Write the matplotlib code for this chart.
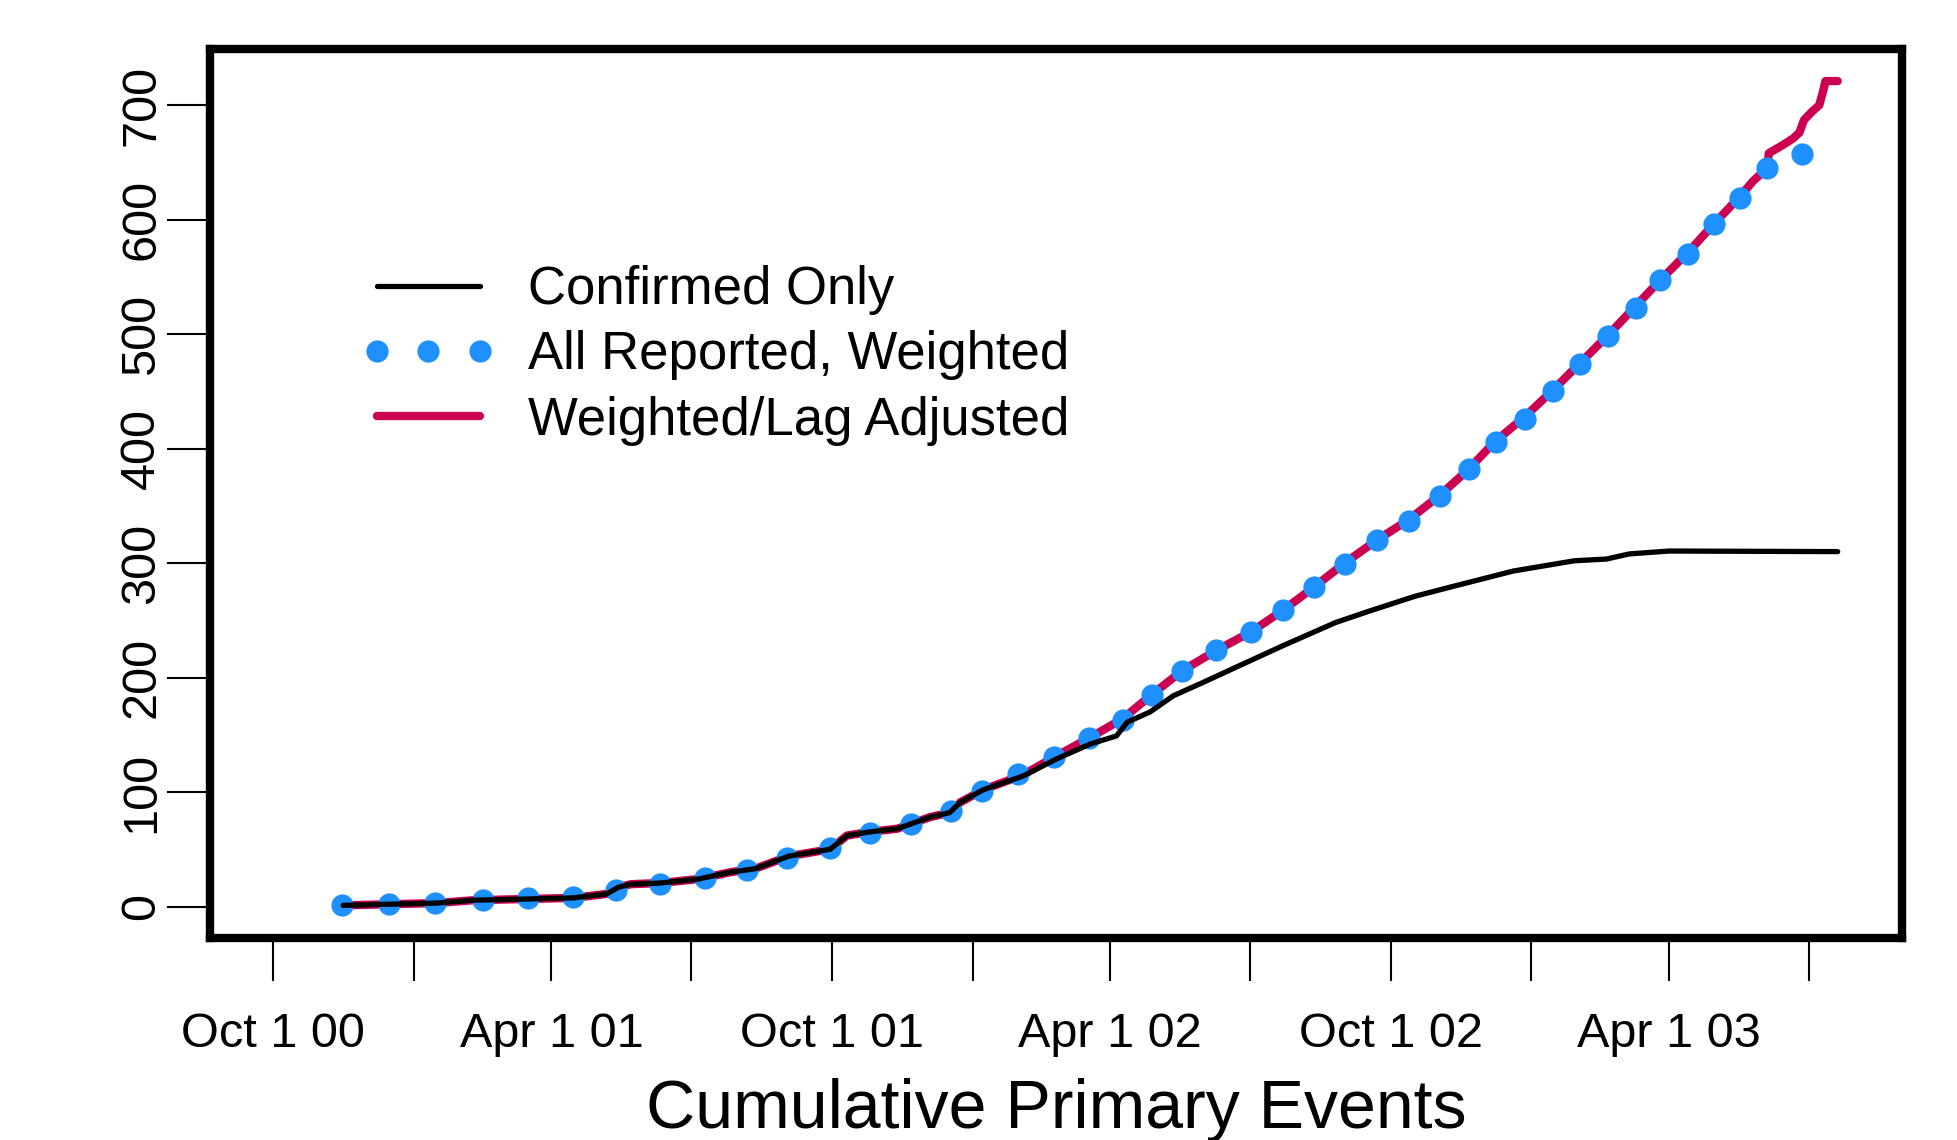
import matplotlib.pyplot as plt
import numpy as np

plt.rcParams['font.family'] = ['Liberation Sans', 'DejaVu Sans']

# confirmed events only (black)
conf_dates = ['2000-11-16', '2000-12-16', '2001-01-16', '2001-02-09', '2001-03-14',
              '2001-04-15', '2001-05-07', '2001-05-15', '2001-05-23', '2001-06-11',
              '2001-07-06', '2001-07-27', '2001-08-12', '2001-09-03', '2001-09-30',
              '2001-10-11', '2001-10-25', '2001-11-13', '2001-12-04', '2001-12-17',
              '2001-12-24', '2002-01-08', '2002-02-03', '2002-02-25', '2002-03-19',
              '2002-04-05', '2002-04-12', '2002-04-27', '2002-05-12', '2002-06-01',
              '2002-06-22', '2002-07-23', '2002-08-26', '2002-09-17', '2002-10-17',
              '2002-11-09', '2002-12-20', '2003-01-29', '2003-02-19', '2003-03-06',
              '2003-04-01', '2003-07-20']
conf_counts = [1, 2, 3, 5.5, 6.5, 7.5, 11, 17, 19.5, 20.5,
               24, 30, 33, 44, 50, 62, 65, 68, 78, 82,
               91, 102, 114, 129, 142, 149, 161, 170, 184, 196,
               209, 228, 248, 258, 271, 279, 293, 302, 303.5, 308,
               310.5, 310]

# all reported, weighted (blue dots)
wtd_dates = ['2000-11-15', '2000-12-16', '2001-01-15', '2001-02-15', '2001-03-17',
             '2001-04-15', '2001-05-13', '2001-06-11', '2001-07-10', '2001-08-07',
             '2001-09-02', '2001-09-30', '2001-10-26', '2001-11-22', '2001-12-18',
             '2002-01-07', '2002-01-31', '2002-02-23', '2002-03-18', '2002-04-09',
             '2002-04-28', '2002-05-18', '2002-06-09', '2002-07-02', '2002-07-23',
             '2002-08-12', '2002-09-01', '2002-09-22', '2002-10-13', '2002-11-02',
             '2002-11-21', '2002-12-09', '2002-12-28', '2003-01-15', '2003-02-02',
             '2003-02-20', '2003-03-10', '2003-03-26', '2003-04-13', '2003-04-30',
             '2003-05-17', '2003-06-04', '2003-06-27']
wtd_counts = [1, 2, 3, 5.5, 7.6, 8.7, 14, 19.6, 25, 31.6,
              42.5, 51, 64, 72, 83, 101, 115.6, 131, 147, 162.5,
              185, 206, 224, 240, 259, 279, 299, 320, 337, 359,
              382, 406, 426, 450, 474, 498, 523, 547, 570, 596,
              619, 645, 657]

# weighted / lag adjusted (red)
adj_dates = ['2000-11-16', '2000-12-16', '2001-01-16', '2001-02-09', '2001-03-14',
             '2001-04-15', '2001-05-07', '2001-05-15', '2001-05-23', '2001-06-11',
             '2001-07-06', '2001-07-27', '2001-08-12', '2001-09-03', '2001-09-30',
             '2001-10-11', '2001-10-25', '2001-11-13', '2001-12-04', '2001-12-17',
             '2001-12-24', '2002-01-08', '2002-02-03', '2002-02-24', '2002-03-18',
             '2002-04-09', '2002-04-28', '2002-05-18', '2002-06-09', '2002-07-02',
             '2002-07-23', '2002-08-12', '2002-09-01', '2002-09-22', '2002-10-13',
             '2002-11-02', '2002-11-21', '2002-12-08', '2002-12-27', '2003-01-15',
             '2003-02-02', '2003-02-20', '2003-03-09', '2003-03-26', '2003-04-13',
             '2003-04-30', '2003-05-17', '2003-05-26', '2003-06-04', '2003-06-05',
             '2003-06-14', '2003-06-21', '2003-06-25', '2003-06-28', '2003-07-03',
             '2003-07-08', '2003-07-11', '2003-07-12', '2003-07-20']
adj_counts = [1, 2, 3, 5.5, 6.5, 7.5, 11, 17, 19.5, 20.5,
              24, 30, 33, 44, 50, 62, 65, 68, 78, 82,
              91, 102, 115, 131, 147, 164, 185, 206, 223.5, 240,
              259, 279, 300, 320, 338, 359, 382, 406, 427, 451,
              475, 499, 523, 547, 571, 596, 620, 634, 645, 658,
              665, 671, 676, 687, 694, 700, 715, 721, 721]

tick_dates = ['2000-10-01', '2001-01-01', '2001-04-01', '2001-07-01', '2001-10-01',
              '2002-01-01', '2002-04-01', '2002-07-01', '2002-10-01', '2003-01-01',
              '2003-04-01', '2003-07-01']
tick_labels = ['Oct 1 00', '', 'Apr 1 01', '', 'Oct 1 01', '', 'Apr 1 02', '',
               'Oct 1 02', '', 'Apr 1 03', '']
y_ticks = [0, 100, 200, 300, 400, 500, 600, 700]

red = '#CC0050'
blue = '#1E90FF'

fig = plt.figure(figsize=(19.57, 11.40), dpi=100)
ax = fig.add_axes([0.1073, 0.1772, 0.8646, 0.7798])

d = lambda s: np.array(s, dtype='datetime64[D]')

ax.plot(d(adj_dates), adj_counts, color=red, lw=6, solid_capstyle='round',
        solid_joinstyle='round', label='Weighted/Lag Adjusted', zorder=2)
ax.plot(d(wtd_dates), wtd_counts, 'o', color=blue, ms=16, mew=0,
        label='All Reported, Weighted', zorder=3)
ax.plot(d(conf_dates), conf_counts, color='black', lw=3.8, solid_capstyle='round',
        solid_joinstyle='round', label='Confirmed Only', zorder=4)

ax.set_xlim(np.datetime64('2000-08-21'), np.datetime64('2003-08-31'))
ax.set_ylim(-27.5, 749)

ax.set_xticks(d(tick_dates))
ax.set_xticklabels(tick_labels)
ax.set_yticks(y_ticks)
ax.set_yticklabels([str(v) for v in y_ticks], rotation=90, va='center')

ax.tick_params(axis='both', direction='out', length=31, width=1.5,
               labelsize=35, color='black')
ax.tick_params(axis='x', pad=22)
ax.tick_params(axis='y', pad=2)
for sp in ax.spines.values():
    sp.set_linewidth(6)

h, l = ax.get_legend_handles_labels()
order = [2, 1, 0]
ax.legend([h[i] for i in order], [l[i] for i in order],
          loc='upper left', bbox_to_anchor=(361 / 1957, 1 - 265 / 1140),
          bbox_transform=fig.transFigure, frameon=False, fontsize=38,
          numpoints=3, handlelength=2.55, handletextpad=0.61,
          labelspacing=0.29, borderpad=0, borderaxespad=0)

fig.text(1056 / 1957, 12 / 1140, 'Cumulative Primary Events', fontsize=49,
         ha='center', va='baseline')

fig.savefig('out.png', dpi=100)
